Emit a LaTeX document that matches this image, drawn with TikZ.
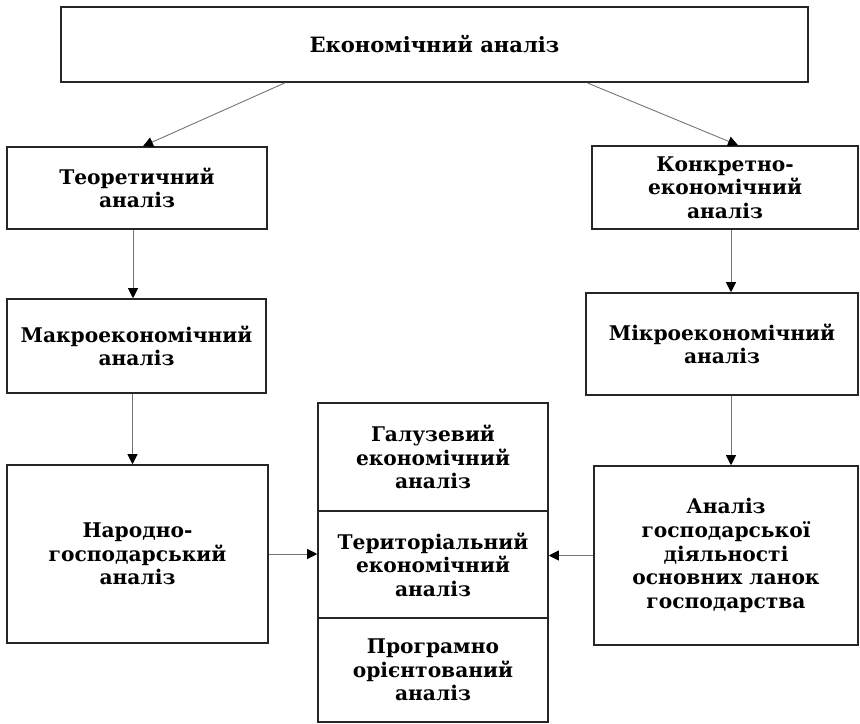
\documentclass[tikz,border=0pt]{standalone}
\usepackage{fontspec}
\setmainfont{DejaVu Serif}
\usetikzlibrary{arrows.meta}

\tikzset{
 blok/.style={draw=black!85, line width=.9pt, align=center, inner sep=0pt,
   font=\bfseries\fontsize{11.5}{13.4}\selectfont},
 strilka/.style={draw=black!55, line width=.5pt, -{Triangle[length=2mm,width=2mm,color=black]}}
}

\begin{document}
\begin{tikzpicture}[x=.02cm, y=-.02cm]
%\draw[help lines] (0,0) grid[step=50] (860,724);
\useasboundingbox (0,0) rectangle (860,724);

 \node[blok, minimum width=14.94cm, minimum height=1.5cm,
   font=\bfseries\fontsize{12}{14}\selectfont] (ekon) at (434.5,44.5) {Економічний аналіз};

% left side
 \node[blok, minimum width=5.2cm, minimum height=1.64cm] (teor) at (137,188) {Теоретичний\\аналіз};
 \node[blok, minimum width=5.18cm, minimum height=1.88cm] (makro) at (136.5,346) {Макроекономічний\\аналіз};
 \node[blok, minimum width=5.22cm, minimum height=3.56cm] (narod) at (137.5,554) {Народно-\\господарський\\аналіз};

% right side
 \node[blok, minimum width=5.32cm, minimum height=1.66cm] (konkr) at (725,187.5) {Конкретно-\\економічний\\аналіз};
 \node[blok, minimum width=5.44cm, minimum height=2.04cm] (mikro) at (722,344) {Мікроекономічний\\аналіз};
 \node[blok, minimum width=5.28cm, minimum height=3.58cm] (gosp) at (726,555.5) {Аналіз\\господарської\\діяльності\\основних ланок\\господарства};

% middle column
 \node[blok, minimum width=4.6cm, minimum height=2.16cm] (galuz) at (433,457) {Галузевий\\економічний\\аналіз};
 \node[blok, minimum width=4.6cm, minimum height=2.14cm] (terit) at (433,564.5) {Територіальний\\економічний\\аналіз};
 \node[blok, minimum width=4.6cm, minimum height=2.08cm] (progr) at (433,670) {Програмно\\орієнтований\\аналіз};

 \draw[strilka] ([xshift=-2.99cm]ekon.south) -- ([xshift=.12cm]teor.north);
 \draw[strilka] ([xshift=3.05cm]ekon.south) -- ([xshift=.26cm]konkr.north);

 \draw[strilka] ([xshift=-.08cm]teor.south) -- ([xshift=-.08cm]teor.south |- makro.north);
 \draw[strilka] ([xshift=-.08cm]makro.south) -- ([xshift=-.08cm]makro.south |- narod.north);
 \draw[strilka] ([xshift=.12cm]konkr.south) -- ([xshift=.12cm]konkr.south |- mikro.north);
 \draw[strilka] ([xshift=.18cm]mikro.south) -- ([xshift=.18cm]mikro.south |- gosp.north);

 \draw[strilka] (narod.east) -- (narod.east -| terit.west);
 \draw[strilka] (gosp.west) -- (gosp.west -| terit.east);

\end{tikzpicture}
\end{document}
